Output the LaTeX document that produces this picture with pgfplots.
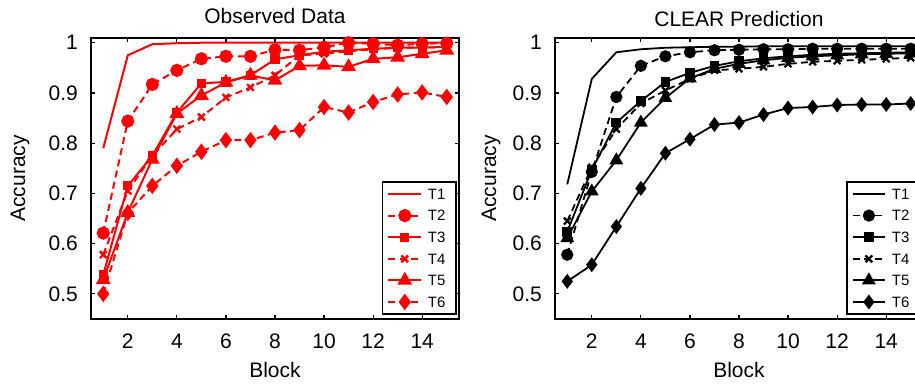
\documentclass[border=0pt]{standalone}
\usepackage{fontspec}
\setmainfont{Liberation Sans}
\usepackage{pgfplots}
\pgfplotsset{compat=1.18}
\definecolor{myred}{RGB}{255,0,0}

\pgfplotstableread{
x T1 T2 T3 T4 T5 T6
1 0.790 0.621 0.538 0.578 0.528 0.500
2 0.975 0.844 0.715 0.705 0.662 0.661
3 0.997 0.917 0.775 0.775 0.768 0.715
4 0.999 0.945 0.861 0.828 0.859 0.755
5 1.000 0.968 0.919 0.852 0.895 0.783
6 1.000 0.973 0.922 0.891 0.921 0.806
7 1.000 0.973 0.935 0.911 0.935 0.806
8 1.000 0.986 0.967 0.935 0.925 0.821
9 1.000 0.985 0.975 0.975 0.954 0.826
10 1.000 0.991 0.982 0.978 0.955 0.872
11 1.000 1.000 0.985 0.983 0.952 0.861
12 1.000 0.998 0.988 0.987 0.968 0.882
13 1.000 0.995 0.990 0.990 0.971 0.897
14 1.000 0.998 0.990 0.990 0.978 0.901
15 1.000 0.999 0.992 0.992 0.985 0.892
}\obsdata

\pgfplotstableread{
x T1 T2 T3 T4 T5 T6
1 0.718 0.578 0.624 0.645 0.611 0.525
2 0.928 0.743 0.747 0.752 0.704 0.558
3 0.981 0.892 0.841 0.828 0.766 0.634
4 0.987 0.954 0.884 0.879 0.841 0.710
5 0.990 0.973 0.922 0.905 0.890 0.780
6 0.991 0.981 0.940 0.928 0.929 0.808
7 0.992 0.985 0.954 0.945 0.948 0.837
8 0.992 0.986 0.963 0.948 0.958 0.841
9 0.993 0.987 0.969 0.952 0.965 0.857
10 0.993 0.987 0.973 0.958 0.970 0.870
11 0.993 0.988 0.976 0.962 0.973 0.872
12 0.993 0.988 0.978 0.964 0.975 0.876
13 0.993 0.988 0.979 0.966 0.977 0.877
14 0.993 0.988 0.980 0.968 0.978 0.877
15 0.993 0.988 0.981 0.970 0.979 0.879
}\preddata

\pgfplotsset{
  panel/.style={
    scale only axis, width=184pt, height=140.65pt,
    anchor=north west,
    xmin=0.5, xmax=15.5, ymin=0.45, ymax=1.01,
    xtick={2,4,...,14},
    ytick={0.5,0.6,0.7,0.8,0.9,1},
    yticklabels={0.5,0.6,0.7,0.8,0.9,1},
    tick align=inside, major tick length=2.2pt,
    tick style={black, line width=0.6pt},
    axis line style={line width=0.9pt},
    /pgf/number format/assume math mode=true,
    xticklabel style={anchor=base, yshift=-14.65pt},
    yticklabel style={anchor=east, inner xsep=0pt, xshift=-6.35pt},
    xlabel={Block}, ylabel={Accuracy},
    xlabel style={at={(axis description cs:0.5,0)}, anchor=base, yshift=-29.15pt},
    every axis title shift=0pt,
    title style={at={(axis description cs:0.5,1)}, anchor=base},
    legend cell align=left,
    legend image code/.code={\draw[mark repeat=2,mark phase=2] plot coordinates {(0pt,0pt) (8.15pt,0pt) (16.3pt,0pt)};},
    legend style={at={(axis description cs:1,0)}, anchor=south east, xshift=-1pt, yshift=2pt,
      draw=black, line width=0.8pt, font=\fontsize{7.5}{9}\selectfont,
      inner xsep=2.5pt, inner ysep=0.7pt, row sep=0pt,
      nodes={inner xsep=2.9pt, inner ysep=2.8pt, text depth=0pt}},
  },
  dsh/.style={dash pattern=on 3.5pt off 2.2pt},
}

\begin{document}
\begin{tikzpicture}[font=\fontsize{10.5}{12.6}\selectfont]
\path[use as bounding box] (0pt,0pt) rectangle (457.5pt,-193pt);

\begin{axis}[panel, at={(45.5pt,-18.85pt)},
  title={Observed Data}, title style={yshift=7.35pt},
  ylabel style={at={(axis description cs:-0.1793,0.5)}, anchor=base}]
\addplot[myred, line width=1pt] table[x=x,y=T1] {\obsdata};
\addplot[myred, line width=1pt, dsh, mark=*, mark size=2.8pt, mark options={solid}] table[x=x,y=T2] {\obsdata};
\addplot[myred, line width=1pt, mark=square*, mark size=1.8pt, mark options={solid}] table[x=x,y=T3] {\obsdata};
\addplot[myred, line width=1pt, dsh, mark=x, mark size=2.4pt, mark options={solid, line width=1.2pt}] table[x=x,y=T4] {\obsdata};
\addplot[myred, line width=1pt, mark=triangle*, mark size=3.3pt, mark options={solid}] table[x=x,y=T5] {\obsdata};
\addplot[myred, line width=1pt, dsh, mark=diamond*, mark size=3.3pt, mark options={solid}] table[x=x,y=T6] {\obsdata};
\legend{T1,T2,T3,T4,T5,T6}
\end{axis}

\begin{axis}[panel, at={(277.5pt,-18.85pt)},
  title={CLEAR Prediction}, title style={yshift=5.5pt},
  ylabel style={at={(axis description cs:-0.1603,0.5)}, anchor=base}]
\addplot[black, line width=0.9pt] table[x=x,y=T1] {\preddata};
\addplot[black, line width=0.9pt, dsh, mark=*, mark size=2.6pt, mark options={solid}] table[x=x,y=T2] {\preddata};
\addplot[black, line width=0.9pt, mark=square*, mark size=2pt, mark options={solid}] table[x=x,y=T3] {\preddata};
\addplot[black, line width=0.9pt, dsh, mark=x, mark size=2.4pt, mark options={solid, line width=1.1pt}] table[x=x,y=T4] {\preddata};
\addplot[black, line width=0.9pt, mark=triangle*, mark size=3.1pt, mark options={solid}] table[x=x,y=T5] {\preddata};
\addplot[black, line width=0.9pt, mark=diamond*, mark size=3pt, mark options={solid}] table[x=x,y=T6] {\preddata};
\legend{T1,T2,T3,T4,T5,T6}
\end{axis}
\end{tikzpicture}
\end{document}
